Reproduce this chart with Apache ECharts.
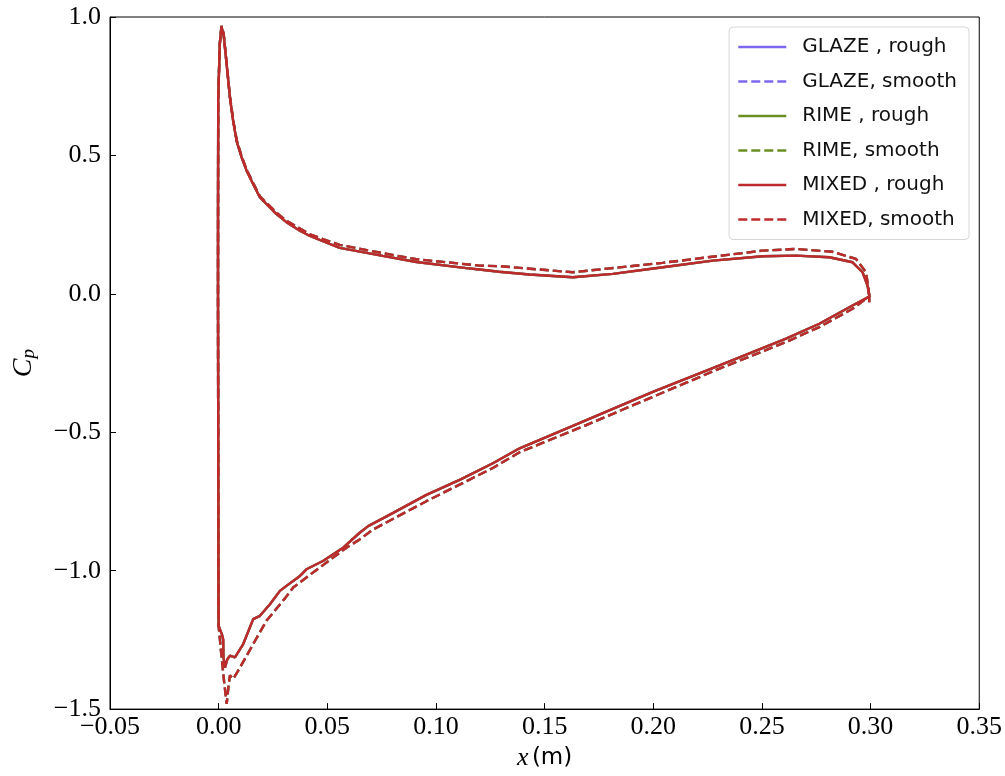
<!DOCTYPE html>
<html>
<head>
<meta charset="utf-8">
<script src="https://cdn.jsdelivr.net/npm/echarts@6/dist/echarts.min.js"></script>
<style>
  html, body { margin: 0; padding: 0; background: #fff; }
  #chart { width: 1005px; height: 776px; }
</style>
</head>
<body>
<div id="chart"></div>
<script>
// ice types, one rough (solid) and one smooth (dashed) curve each
var iceTypes = ['GLAZE', 'RIME', 'MIXED']
var iceColors = ['#7B68EE', '#6B8E23', '#BE2A2C']

// rough surface: trailing edge -> pressure side -> stagnation -> nose -> suction side -> trailing edge
var roughX = [0.2994, 0.2994, 0.2986, 0.2963, 0.2917, 0.2810, 0.2657, 0.2504, 0.2274, 0.2044, 0.1814, 0.1630,
  0.1430, 0.1290, 0.1200, 0.1140, 0.0910, 0.0755, 0.0557, 0.0480, 0.0420, 0.0374, 0.0312, 0.0266, 0.0190,
  0.0159, 0.0129, 0.0106, 0.0083, 0.0067, 0.0052, 0.0037, 0.0023, 0.0013, 0.0005, -0.0002, -0.0003, -0.0003,
  -0.0002, -0.0001, 0.0000, 0.0015, 0.0021, 0.0022, 0.0029, 0.0040, 0.0052, 0.0075, 0.0113, 0.0159, 0.0190,
  0.0236, 0.0282, 0.0312, 0.0374, 0.0404, 0.0480, 0.0573, 0.0649, 0.0688, 0.0803, 0.0956, 0.1109, 0.1262,
  0.1385, 0.1692, 0.1998, 0.2305, 0.2611, 0.2764, 0.2917, 0.2994]
var roughY = [-0.030, -0.006, 0.030, 0.078, 0.114, 0.132, 0.138, 0.136, 0.120, 0.096, 0.072, 0.060,
  0.070, 0.080, 0.088, 0.093, 0.115, 0.137, 0.166, 0.190, 0.209, 0.228, 0.259, 0.288, 0.348,
  0.396, 0.444, 0.492, 0.551, 0.623, 0.708, 0.827, 0.935, 0.965, 0.900, 0.700, 0.300, 0.000,
  -0.500, -1.000, -1.200, -1.230, -1.250, -1.310, -1.350, -1.320, -1.307, -1.313, -1.265, -1.175, -1.163,
  -1.121, -1.073, -1.055, -1.019, -0.995, -0.965, -0.917, -0.863, -0.839, -0.791, -0.726, -0.672, -0.612,
  -0.558, -0.456, -0.354, -0.258, -0.162, -0.108, -0.042, -0.010]

// smooth surface, same path order
var smoothX = [0.2994, 0.2990, 0.2979, 0.2933, 0.2824, 0.2657, 0.2502, 0.2043, 0.1630, 0.1290, 0.1201,
  0.0910, 0.0755, 0.0557, 0.0480, 0.0420, 0.0312, 0.0266, 0.0190, 0.0159, 0.0129, 0.0106, 0.0083, 0.0067,
  0.0052, 0.0037, 0.0023, 0.0013,
  0.0005, -0.0002, -0.0003, -0.0001, 0.0000, 0.0012, 0.0025, 0.0037, 0.0045, 0.0052, 0.0067, 0.0090,
  0.0159, 0.0220, 0.0305, 0.0343, 0.0420, 0.0588, 0.0649, 0.0711, 0.0956, 0.1262, 0.1385, 0.1692,
  0.1998, 0.2305, 0.2611, 0.2764, 0.2917, 0.2975, 0.2994]
var smoothY = [-0.010, 0.020, 0.078, 0.126, 0.152, 0.162, 0.156, 0.112, 0.078, 0.100, 0.102,
  0.125, 0.147, 0.177, 0.198, 0.215, 0.264, 0.293, 0.352, 0.400, 0.448, 0.496, 0.555, 0.627,
  0.712, 0.830, 0.940, 0.968,
  0.900, 0.700, 0.000, -1.000, -1.200, -1.300, -1.400, -1.481, -1.420, -1.378, -1.391, -1.361,
  -1.265, -1.181, -1.100, -1.061, -1.015, -0.917, -0.887, -0.851, -0.749, -0.629, -0.572, -0.474,
  -0.372, -0.270, -0.174, -0.120, -0.054, -0.020, -0.010]

// axis ticks
var xTicks = { min: -0.05, max: 0.35, step: 0.05 }
var yTicks = { min: -1.5, max: 1.0, step: 0.5 }

function zip(xs, ys) {
  return xs.map(function (x, i) { return [x, ys[i]] })
}
function minus(s) {
  return s.replace('-', '\u2212')
}

var serif = '"Liberation Serif", "DejaVu Serif", serif'
var sans = '"DejaVu Sans", "Liberation Sans", sans-serif'

var series = []
var legendNames = []
iceTypes.forEach(function (t, k) {
  var variants = [
    { name: t + ' , rough', x: roughX, y: roughY, type: 'solid' },
    { name: t + ', smooth', x: smoothX, y: smoothY, type: [9, 4] },
  ]
  variants.forEach(function (v) {
    legendNames.push(v.name)
    series.push({
      name: v.name,
      type: 'line',
      data: zip(v.x, v.y),
      symbol: 'none',
      showSymbol: false,
      smooth: false,
      silent: true,
      itemStyle: { color: iceColors[k] },
      lineStyle: { color: iceColors[k], width: 2.4, type: v.type },
    })
  })
})

var chart = echarts.init(document.getElementById('chart'))
var option = {
  animation: false,
  backgroundColor: '#fff',
  grid: {
    left: 110, right: 25, top: 17, bottom: 65,
    show: true, borderColor: '#000', borderWidth: 1, backgroundColor: 'transparent',
  },
  legend: {
    data: legendNames,
    orient: 'vertical',
    right: 36,
    top: 27,
    itemWidth: 48,
    itemHeight: 14,
    itemGap: 14.5,
    padding: [10, 12, 10, 8],
    itemStyle: { opacity: 0 },
    lineStyle: { width: 2.4 },
    backgroundColor: 'rgba(255,255,255,0.85)',
    borderColor: '#d6d6d6',
    borderWidth: 1,
    borderRadius: 4,
    textStyle: { fontFamily: sans, fontSize: 20, color: '#111', padding: [0, 0, 0, 11] },
  },
  xAxis: {
    type: 'value',
    min: xTicks.min,
    max: xTicks.max,
    interval: xTicks.step,
    name: '{i|x} {n|(m)}',
    nameLocation: 'middle',
    nameGap: 34,
    nameTextStyle: {
      rich: {
        i: { fontFamily: serif, fontStyle: 'italic', fontSize: 26, color: '#000' },
        n: { fontFamily: sans, fontSize: 23, color: '#000' },
      },
    },
    axisLine: { onZero: false, lineStyle: { color: '#000', width: 1 } },
    axisTick: { inside: true, length: 6, lineStyle: { color: '#000' } },
    axisLabel: {
      fontFamily: serif, fontSize: 26, color: '#000', margin: 5,
      formatter: function (v) { return minus(v.toFixed(2)) },
    },
    splitLine: { show: false },
  },
  yAxis: {
    type: 'value',
    min: yTicks.min,
    max: yTicks.max,
    interval: yTicks.step,
    name: '{i|C}{s|p}',
    nameLocation: 'middle',
    nameGap: 72,
    nameRotate: 90,
    nameTextStyle: {
      rich: {
        i: { fontFamily: serif, fontStyle: 'italic', fontSize: 28, color: '#000', verticalAlign: 'bottom' },
        s: { fontFamily: serif, fontStyle: 'italic', fontSize: 19, color: '#000', verticalAlign: 'bottom', padding: [10, 0, 0, 0] },
      },
    },
    axisLine: { onZero: false, lineStyle: { color: '#000', width: 1 } },
    axisTick: { inside: true, length: 6, lineStyle: { color: '#000' } },
    axisLabel: {
      fontFamily: serif, fontSize: 26, color: '#000', margin: 9,
      formatter: function (v) { return minus(v.toFixed(1)) },
    },
    splitLine: { show: false },
  },
  series: series,
}
chart.setOption(option)
</script>
</body>
</html>
